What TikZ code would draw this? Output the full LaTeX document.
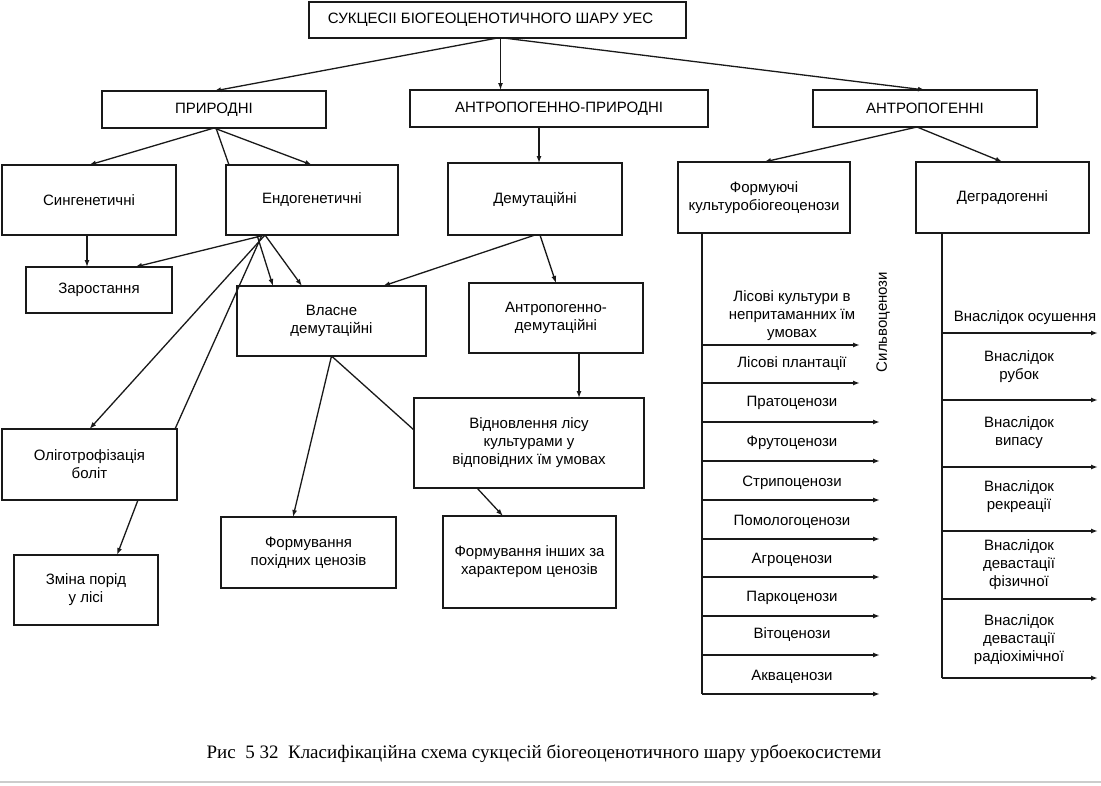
\documentclass[tikz,border=0pt]{standalone}
\usepackage{fontspec}
\setmainfont{Liberation Sans}
\newfontfamily\podpys{Liberation Serif}
\usepackage{tikz}
\usetikzlibrary{arrows.meta}
\tikzset{>={Latex[length=7pt,width=5pt]}}
\usepackage{xcolor}
\colorlet{liniya}{black!90}
\tikzstyle{blok}=[draw=liniya,line width=1.8pt,align=center,inner sep=1pt,outer sep=0pt,font=\fontsize{15}{18}\selectfont]
\tikzstyle{napys}=[align=center,inner sep=0pt,font=\fontsize{15}{18}\selectfont]
\tikzstyle{zv}=[line width=1.3pt,draw=liniya]
\tikzstyle{stovp}=[line width=1.8pt,draw=liniya]

\begin{document}
\begin{tikzpicture}[x=1pt,y=-1pt]
			\useasboundingbox (0,0) rectangle (1101,785);
			% верхні рівні
			\node[blok,minimum width=377,minimum height=36] at (497.5,20) (sukc) {СУКЦЕСІІ БІОГЕОЦЕНОТИЧНОГО ШАРУ УЕС\hspace{14pt}};
			\node[blok,minimum width=224,minimum height=37] at (214,109.5) (pryr) {ПРИРОДНІ};
			\node[blok,minimum width=298,minimum height=37] at (559,108.5) (antpr) {АНТРОПОГЕННО-ПРИРОДНІ};
			\node[blok,minimum width=224,minimum height=37] at (925,108.5) (antr) {АНТРОПОГЕННІ};
			
			\node[blok,minimum width=174,minimum height=70] at (89,200) (synh) {Сингенетичні};
			\node[blok,minimum width=172,minimum height=70] at (312,200) (endo) {Ендогенетичні};
			\node[blok,minimum width=174,minimum height=72] at (535,199) (demut) {Демутаційні};
			\node[blok,minimum width=172,minimum height=71] at (764,197.5) (form) {Формуючі\\культуробіогеоценози};
			\node[blok,minimum width=173,minimum height=71] at (1002.5,197.5) (degr) {Деградогенні};
			
			% нижні блоки
			\node[blok,minimum width=146,minimum height=46] at (99,290) (zarost) {Заростання};
			\node[blok,minimum width=189,minimum height=70] at (331.5,321) (vlasne) {Власне\\демутаційні};
			\node[blok,minimum width=174,minimum height=70] at (556,318) (antdem) {Антропогенно-\\демутаційні};
			\node[blok,minimum width=175,minimum height=71] at (89.5,464.5) (olig) {Оліготрофізація\\боліт};
			\node[blok,minimum width=230,minimum height=90] at (529,443) (vidnov) {Відновлення лісу\\культурами у\\відповідних їм умовах};
			\node[blok,minimum width=144,minimum height=70] at (86,590) (zmina) {Зміна порід\\у лісі};
			\node[blok,minimum width=175,minimum height=71] at (308.5,552.5) (pokhid) {Формування\\похідних ценозів};
			\node[blok,minimum width=173,minimum height=92] at (529.5,562) (inshi) {Формування інших за\\характером ценозів};
			
			% зв'язки
			\draw[zv,->] (sukc.south) -- (pryr.north);
			\draw[zv,->] ([xshift=3pt]sukc.south) -- ([xshift=3pt]sukc.south |- antpr.north);
			\draw[zv,->] ([xshift=6pt]sukc.south) -- (antr.north);
			\draw[zv,->] (pryr.south) -- (synh.north);
			\draw[zv,->] (pryr.south) -- (endo.north);
			\draw[zv] ([xshift=2pt]pryr.south) -- ([xshift=3pt]endo.north west);
			\draw[zv,->] ([xshift=4pt]demut.north |- antpr.south) -- ([xshift=4pt]demut.north);
			\draw[zv,->] ([xshift=-8pt]antr.south) -- (form.north);
			\draw[zv,->] ([xshift=-8pt]antr.south) -- (degr.north);
			
			\draw[zv,->] ([xshift=-2pt]synh.south) -- ([xshift=-2pt]synh.south |- zarost.north);
			\coordinate (e) at ([xshift=-47pt]endo.south);
			\draw[zv,->] (e) -- ([xshift=36pt]zarost.north);
			\draw[zv,->] ([xshift=-8pt]e) -- ([xshift=-58.5pt]vlasne.north);
			\draw[zv,->] (e) -- ([xshift=-29.5pt]vlasne.north);
			\draw[zv,->] (e) -- (olig.north);
			\draw[zv] ([xshift=-3pt]e) -- ([xshift=-2pt]olig.north east);
			\draw[zv,->] (demut.south) -- ([xshift=51.5pt]vlasne.north);
			\draw[zv,->] ([xshift=5pt]demut.south) -- (antdem.north);
			\draw[zv,->] ([xshift=23pt]antdem.south) -- ([xshift=23pt]antdem.south |- vidnov.north);
			\draw[zv,->] (vlasne.south) -- ([xshift=-15.5pt]pokhid.north);
			\draw[zv] (vlasne.south) -- ([yshift=13pt]vidnov.west);
			\draw[zv,->] ([xshift=-52pt]vidnov.south) -- ([xshift=-26.5pt]inshi.north);
			\draw[zv,->] ([xshift=48.5pt]olig.south) -- ([xshift=31pt]zmina.north);
			
			% стовпчик культуробіогеоценозів
			\foreach \y/\k [count=\i] in {345/860,383/860,422/880,461/880,500/880,539/880,577/880,616/880,655/880,694/880}{
				\coordinate (fl\i) at (702,\y);
				\coordinate (fp\i) at (\k,\y);
				\draw[stovp,->] (fl\i) -- (fp\i);
			}
			\draw[stovp] ([xshift=24pt]form.south west) -- (fl10);
			\node[napys] at (792,316) (kf1) {Лісові культури в\\непритаманних їм\\умовах};
			\foreach \t/\y [count=\i from 2] in {Лісові плантації/364,Пратоценози/403,Фрутоценози/443,Стрипоценози/483,Помологоценози/522,Агроценози/560,Паркоценози/598,Вітоценози/635,Акваценози/677}{
				\node[napys] at (792,\y) (kf\i) {\t};
			}
			\node[napys,rotate=90] at (883,322) (silvo) {Сильвоценози};
			
			% стовпчик деградогенних
			\foreach \y [count=\i] in {333,400,467,531,599,678}{
				\coordinate (dl\i) at (942,\y);
				\coordinate (dp\i) at (1098,\y);
				\draw[stovp,->] (dl\i) -- (dp\i);
			}
			\draw[stovp] ([xshift=26pt]degr.south west) -- (dl6);
			\node[napys] at (1025,318) (dg1) {Внаслідок осушення};
			\node[napys] at (1019,367) (dg2) {Внаслідок\\рубок};
			\node[napys] at (1019,433) (dg3) {Внаслідок\\випасу};
			\node[napys] at (1019,497) (dg4) {Внаслідок\\рекреації};
			\node[napys] at (1019,565) (dg5) {Внаслідок\\девастації\\фізичної};
			\node[napys] at (1019,640) (dg6) {Внаслідок\\девастації\\радіохімічної};
			
			% підпис
			\node[font=\podpys\fontsize{19}{22}\selectfont] at (544,754) (pidpys) {Рис\ \ 5 32\ \ Класифікаційна схема сукцесій біогеоценотичного шару урбоекосистеми};
			\draw[gray!40,line width=1.5pt] (0,782) -- (1101,782);
		\end{tikzpicture}
\end{document}
